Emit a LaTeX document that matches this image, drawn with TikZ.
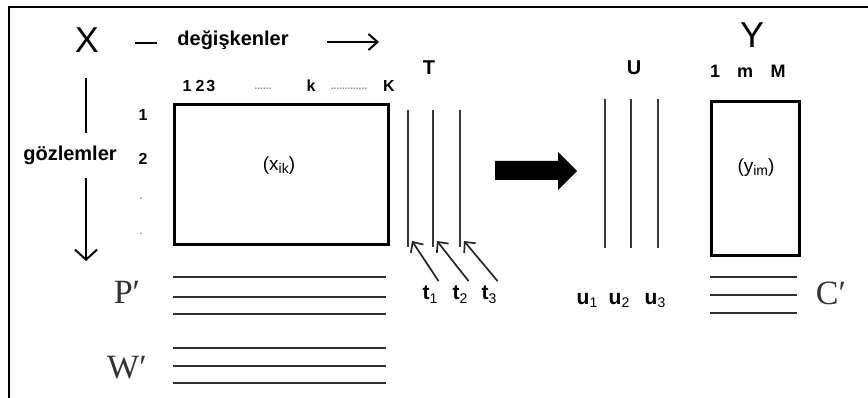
\documentclass[tikz,border=0pt]{standalone}
\usepackage{fontspec}
\newfontfamily\arial{Liberation Sans}
\newfontfamily\tnr{Liberation Serif}
\usetikzlibrary{arrows.meta}
\begin{document}
\begin{tikzpicture}[x=1pt,y=-1pt,
  big/.style={font=\arial\fontsize{36}{36}\selectfont, inner sep=0pt},
  head/.style={font=\arial\bfseries\fontsize{20}{20}\selectfont, inner sep=0pt},
  idx/.style={font=\arial\bfseries\fontsize{16}{16}\selectfont, inner sep=0pt},
  cell/.style={font=\arial\fontsize{19}{19}\selectfont, inner sep=0pt},
  vlab/.style={font=\arial\bfseries\fontsize{21}{21}\selectfont, inner xsep=1pt, inner ysep=0pt},
  prm/.style={font=\tnr\fontsize{34}{34}\selectfont, text=black!80, inner sep=0pt},
  leader/.style={font=\arial\bfseries\fontsize{10}{10}\selectfont, text=black!45, inner sep=0pt},
  mat/.style={draw, line width=3.2pt, inner sep=0pt},
  bar/.style={line width=2.2pt, black!82},
  col/.style={line width=2pt, black!78},
  axis/.style={line width=2pt},
  tarrow/.style={line width=1.7pt, black!85, -{Straight Barb[length=8pt,width=15pt]}},
]
\useasboundingbox (0,0) rectangle (868,398);
% frame
\draw[line width=2pt] (868,7) -- (9,7) -- (9,398);

% ---- data matrix X ----
\node[big, anchor=base] (X) at (87,53) {X};
\node[head, anchor=base] (vars) at (233,46) {değişkenler};
\coordinate (hd1) at (135,43);
\coordinate (hd2) at (157,43);
\coordinate (ha1) at (327,42);
\coordinate (ha2) at (379,42);
\draw[axis] (hd1) -- (hd2);
\draw[axis, -{Straight Barb[length=9pt,width=16pt]}] (ha1) -- (ha2);

\node[head, anchor=base] (obs) at (70,161) {gözlemler};
\coordinate (va1) at (86,78);
\coordinate (va2) at (86,133);
\coordinate (va3) at (86,178);
\coordinate (va4) at (86,261);
\draw[axis] (va1) -- (va2);
\draw[axis, -{Straight Barb[length=10pt,width=22pt]}] (va3) -- (va4);

% column indices
\node[idx, anchor=base] (c123) at (199,92) {1\hspace{4pt}2\hspace{2pt}3};
\node[leader, anchor=base] (cd1) at (263,90) {......};
\node[idx, anchor=base] (ck) at (311,92) {k};
\node[leader, anchor=base] (cd2) at (349,90) {.............};
\node[idx, anchor=base] (cK) at (389,92) {K};
% row indices
\node[idx, anchor=base] (r1) at (143,121) {1};
\node[idx, anchor=base] (r2) at (143,165) {2};
\node[leader, anchor=base] (rd1) at (141,200) {.};
\node[leader, anchor=base] (rd2) at (141,235) {.};

\node[mat, anchor=north west, minimum width=214pt, minimum height=140pt] (Xm) at (173,103) {};
\node[cell, anchor=base] (xik) at (279,171) {(x\raisebox{-3pt}{\fontsize{14}{14}\selectfont ik})};

% P' and W'
\node[prm, anchor=base] (P) at (127,303) {P′};
\node[prm, anchor=base] (W) at (127,378) {W′};
\foreach \y [count=\i] in {277,297,314} {
  \coordinate (pl\i) at (173,\y); \coordinate (pr\i) at (386,\y);
  \draw[bar] (pl\i) -- (pr\i);
}
\foreach \y [count=\i] in {348,366,383} {
  \coordinate (wl\i) at (173,\y); \coordinate (wr\i) at (386,\y);
  \draw[bar] (wl\i) -- (wr\i);
}

% ---- scores T ----
\node[font=\arial\bfseries\fontsize{20}{20}\selectfont, inner sep=0pt, anchor=base] (T) at (429,75) {T};
\foreach \x [count=\i] in {408,433,460} {
  \coordinate (Tt\i) at (\x,110); \coordinate (Tb\i) at (\x,247);
  \draw[col] (Tt\i) -- (Tb\i);
}
\node[vlab, anchor=base] (t1) at (430,300) {t\raisebox{-3pt}{\mdseries\fontsize{14}{14}\selectfont 1}};
\node[vlab, anchor=base] (t2) at (460,300) {t\raisebox{-3pt}{\mdseries\fontsize{14}{14}\selectfont 2}};
\node[vlab, anchor=base] (t3) at (489,300) {t\raisebox{-3pt}{\mdseries\fontsize{14}{14}\selectfont 3}};
\foreach \i in {1,2,3} {
  \draw[tarrow] ([shift={(0,-5)}]t\i.north east) -- ([shift={(4,-6)}]Tb\i);
}

% ---- block arrow ----
\fill (495,161) -- (558,161) -- (558,152) -- (577,171) -- (558,190) -- (558,180) -- (495,180) -- cycle;

% ---- scores U ----
\node[font=\arial\bfseries\fontsize{20}{20}\selectfont, inner sep=0pt, anchor=base] (U) at (634,75) {U};
\foreach \x [count=\i] in {605,631,658} {
  \coordinate (Ut\i) at (\x,99); \coordinate (Ub\i) at (\x,248);
  \draw[col] (Ut\i) -- (Ub\i);
}
\node[vlab, anchor=base] (u1) at (587,305) {u\raisebox{-3pt}{\mdseries\fontsize{14}{14}\selectfont 1}};
\node[vlab, anchor=base] (u2) at (619,305) {u\raisebox{-3pt}{\mdseries\fontsize{14}{14}\selectfont 2}};
\node[vlab, anchor=base] (u3) at (655,305) {u\raisebox{-3pt}{\mdseries\fontsize{14}{14}\selectfont 3}};

% ---- response matrix Y ----
\node[big, anchor=base] (Y) at (752,48) {Y};
\node[idx, anchor=base, font=\arial\bfseries\fontsize{18}{18}\selectfont] (y1) at (715,78) {1};
\node[idx, anchor=base, font=\arial\bfseries\fontsize{18}{18}\selectfont] (ym) at (745,78) {m};
\node[idx, anchor=base, font=\arial\bfseries\fontsize{18}{18}\selectfont] (yM) at (778,78) {M};
\node[mat, anchor=north west, minimum width=88pt, minimum height=154pt] (Ym) at (710,100) {};
\node[cell, anchor=base] (yim) at (756,173) {(y\raisebox{-3pt}{\fontsize{14}{14}\selectfont im})};

% C'
\foreach \y [count=\i] in {277,295,313} {
  \coordinate (cl\i) at (710,\y); \coordinate (cr\i) at (797,\y);
  \draw[bar] (cl\i) -- (cr\i);
}
\node[prm, anchor=base] (C) at (831,305) {C′};
\end{tikzpicture}
\end{document}
